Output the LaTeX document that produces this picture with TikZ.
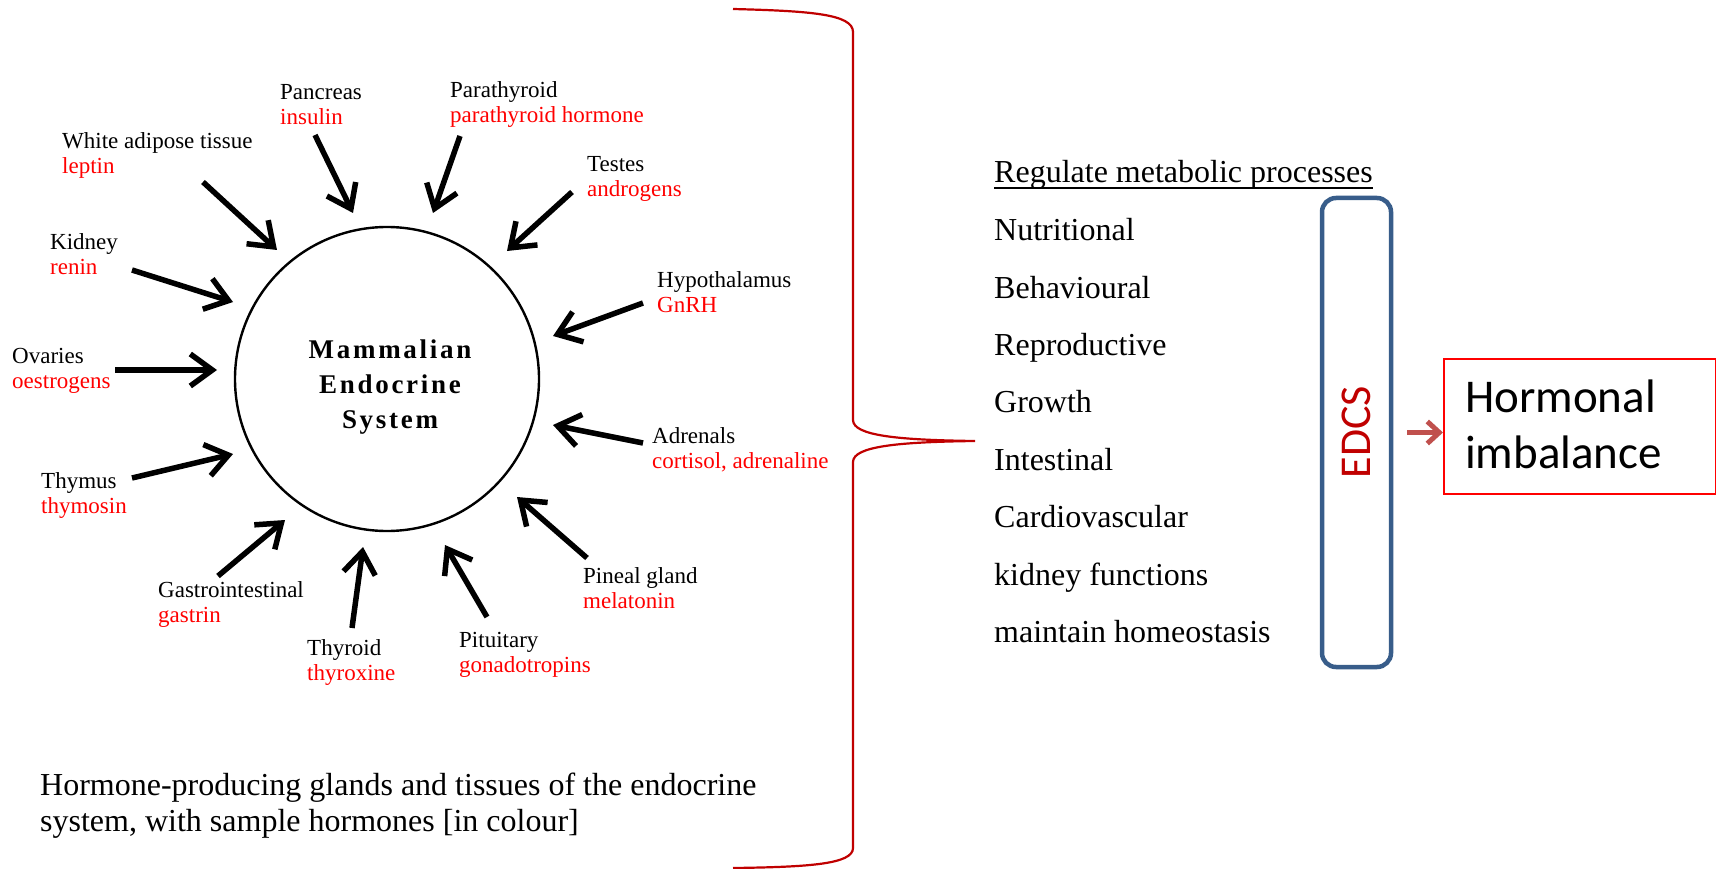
\documentclass[tikz,border=0pt]{standalone}
\usepackage{fontspec}
\setmainfont{Liberation Serif}
\newfontfamily\calibrifont{Carlito}
\newfontfamily\titlefont[LetterSpace=10]{Liberation Serif}
\usetikzlibrary{arrows.meta}
\definecolor{hred}{RGB}{255,0,0}
\definecolor{dred}{RGB}{192,0,0}
\definecolor{edblue}{RGB}{56,93,138}
\definecolor{arrred}{RGB}{192,80,77}
\newcommand{\gl}[2]{\begin{tabular}[t]{@{}l@{}}#1\\\textcolor{hred}{#2}\end{tabular}}
\begin{document}
\begin{tikzpicture}[x=1pt,y=-1pt,
  gland/.style={anchor=base west, inner sep=0, font=\fontsize{23}{25}\selectfont},
  garrow/.style={line width=5.5pt, -{Straight Barb[length=22pt,width=32pt]}},
  item/.style={anchor=base west, inner sep=0, font=\fontsize{32}{36}\selectfont}]
\useasboundingbox (0,0) rectangle (1716,869);

% central circle
\node (sys) [circle, draw, line width=2.4pt, minimum size=304pt, inner sep=0] at (387,379) {};
\node (title) [anchor=base, inner sep=0, font=\titlefont\bfseries\fontsize{27}{35}\selectfont] at (390,358)
  {\begin{tabular}[t]{@{}c@{}}Mammalian\\Endocrine\\System\end{tabular}};

% gland labels
\node (wat) [gland] at (62,149)  {\gl{White adipose tissue}{leptin}};
\node (pan) [gland] at (280,100) {\gl{Pancreas}{insulin}};
\node (kid) [gland] at (50,249)  {\gl{Kidney}{renin}};
\node (ova) [gland] at (12,363)  {\gl{Ovaries}{oestrogens}};
\node (par) [gland] at (450,98)  {\gl{Parathyroid}{parathyroid hormone}};
\node (tes) [gland] at (587,172) {\gl{Testes}{androgens}};
\node (hyp) [gland] at (657,287) {\gl{Hypothalamus}{GnRH}};
\node (thm) [gland] at (41,488)  {\gl{Thymus}{thymosin}};
\node (gas) [gland] at (158,597) {\gl{Gastrointestinal}{gastrin}};
\node (thy) [gland] at (307,655) {\gl{Thyroid}{thyroxine}};
\node (adr) [gland] at (652,443) {\gl{Adrenals}{cortisol, adrenaline}};
\node (pin) [gland] at (583,583) {\gl{Pineal gland}{melatonin}};
\node (pit) [gland] at (459,647) {\gl{Pituitary}{gonadotropins}};

% arrow end points
\coordinate (wat1) at (203,182); \coordinate (wat2) at (277,250);
\coordinate (pan1) at (315,135); \coordinate (pan2) at (353,213);
\coordinate (kid1) at (132,270); \coordinate (kid2) at (233,302);
\coordinate (ova1) at (115,370); \coordinate (ova2) at (217,370);
\coordinate (par1) at (460,136); \coordinate (par2) at (433,213);
\coordinate (tes1) at (572,192); \coordinate (tes2) at (507,251);
\coordinate (hyp1) at (643,303); \coordinate (hyp2) at (553,336);
\coordinate (thm1) at (132,478); \coordinate (thm2) at (233,454);
\coordinate (gas1) at (218,576); \coordinate (gas2) at (285,520);
\coordinate (thy1) at (352,628); \coordinate (thy2) at (363,547);
\coordinate (adr1) at (643,443); \coordinate (adr2) at (553,425);
\coordinate (pin1) at (587,558); \coordinate (pin2) at (517,497);
\coordinate (pit1) at (487,617); \coordinate (pit2) at (445,545);
\foreach \g in {wat,pan,kid,ova,par,tes,hyp,thm,gas,thy,adr,pin,pit}
  \draw[garrow] (\g1) -- (\g2);

% caption
\node (cap) [anchor=base west, inner sep=0, font=\fontsize{32}{36.5}\selectfont] at (40,795)
  {\begin{tabular}[t]{@{}l@{}}Hormone-producing glands and tissues of the endocrine\\system, with sample hormones [in colour]\end{tabular}};

% brace
\coordinate (btip) at (975,441);
\draw[dred, line width=2.2pt] (733,9) .. controls (810,11) and (853,14) .. (853,32) -- (853,420)
  .. controls (853,436) and (900,440) .. (btip)
  .. controls (900,442) and (853,446) .. (853,462) -- (853,848)
  .. controls (853,864) and (810,867) .. (733,868);

% right list
\node (hdr) [item] at (994,183) {Regulate metabolic processes};
\draw[line width=1.6pt] ([yshift=-5pt]hdr.base west) -- ([yshift=-5pt]hdr.base east);
\node (i1) [item] at (994,240.5) {Nutritional};
\node (i2) [item] at (994,298) {Behavioural};
\node (i3) [item] at (994,355) {Reproductive};
\node (i4) [item] at (994,412.5) {Growth};
\node (i5) [item] at (994,470) {Intestinal};
\node (i6) [item] at (994,527.5) {Cardiovascular};
\node (i7) [item] at (994,585) {kidney functions};
\node (i8) [item] at (994,642) {maintain homeostasis};

% EDCS box
\node (edcs) [draw=edblue, line width=4.5pt, rounded corners=14pt, minimum width=69pt, minimum height=469pt, inner sep=0] at (1356.5,432.5) {};
\node (edcst) [rotate=90, text=dred, inner sep=0, font=\calibrifont\fontsize{44}{50}\selectfont] at (1356,432) {EDCS};

% Hormonal imbalance
\node (hb) [draw=hred, line width=2pt, minimum width=272pt, minimum height=135pt, anchor=north west, inner sep=0] at (1443,358) {};
\node (hbt) [anchor=base west, inner sep=0, font=\calibrifont\fontsize{47}{56}\selectfont] at (1465,412)
  {\begin{tabular}[t]{@{}l@{}}Hormonal\\imbalance\end{tabular}};

\draw[arrred, line width=5pt, -{Straight Barb[length=12pt,width=22pt]}, shorten <=14pt] (edcs.east) -- (edcs.east -| hb.west);
\end{tikzpicture}
\end{document}
